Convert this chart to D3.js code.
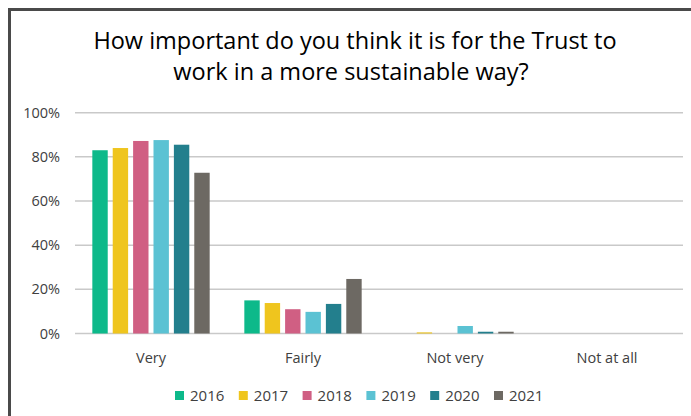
<!DOCTYPE html>
<html>
<head>
<meta charset="utf-8">
<script src="https://cdn.jsdelivr.net/npm/d3@7"></script>
<style>
  body { margin: 0; background: #fff; }
  svg { display: block; font-family: 'Open Sans', Lato, sans-serif; }
</style>
</head>
<body>
<svg id="chart" width="691" height="416"></svg>
<script>
// data
var categories = ['Very', 'Fairly', 'Not very', 'Not at all'];
var years = ['2016', '2017', '2018', '2019', '2020', '2021'];
var values2016 = [0.83, 0.15, 0.0, 0.0];
var values2017 = [0.84, 0.138, 0.005, 0.0];
var values2018 = [0.872, 0.11, 0.0, 0.0];
var values2019 = [0.876, 0.098, 0.034, 0.0];
var values2020 = [0.855, 0.134, 0.008, 0.0];
var values2021 = [0.728, 0.247, 0.008, 0.0];
var yTicks = [0, 0.2, 0.4, 0.6, 0.8, 1.0];
var colors = ['#0db98a', '#efc51e', '#d05f83', '#5bc2d3', '#237f8d', '#6d6963'];

var series = [values2016, values2017, values2018, values2019, values2020, values2021];

var svg = d3.select('#chart');

// frame lines (top and left)
svg.append('rect').attr('x', 8).attr('y', 8).attr('width', 691).attr('height', 3).attr('fill', '#4a4a4a');
svg.append('rect').attr('x', 8).attr('y', 8).attr('width', 3).attr('height', 416).attr('fill', '#4a4a4a');

// title
var title = svg.append('text')
    .attr('text-anchor', 'middle')
    .style('font-size', '23.5px')
    .style('fill', '#000');
title.append('tspan').attr('x', 355).attr('y', 49).text('How important do you think it is for the Trust to');
title.append('tspan').attr('x', 351).attr('y', 80).text('work in a more sustainable way?');

// scales
var xScale = d3.scaleBand().domain(categories).range([75, 683]).paddingInner(0.228).paddingOuter(0.114);
var xInner = d3.scaleBand().domain(years).range([0, xScale.bandwidth()]).padding(0.245).paddingOuter(0);
var yScale = d3.scaleLinear().domain([0, 1]).range([333.5, 112.7]);

// gridlines
svg.append('g').selectAll('line').data(yTicks).enter().append('line')
    .attr('x1', 75).attr('x2', 683)
    .attr('y1', d => yScale(d)).attr('y2', d => yScale(d))
    .attr('stroke', '#c9c9c9').attr('stroke-width', 1.5);

// y labels
svg.append('g').selectAll('text').data(yTicks).enter().append('text')
    .attr('x', 60).attr('y', d => yScale(d))
    .attr('dy', '0.35em')
    .attr('text-anchor', 'end')
    .style('font-size', '14.5px').style('fill', '#404040')
    .text(d => d3.format('.0%')(d));

// bars
var groups = svg.append('g').selectAll('g').data(series).enter().append('g')
    .attr('fill', (d, i) => colors[i])
    .attr('transform', (d, i) => 'translate(' + xInner(years[i]) + ',0)');

groups.selectAll('rect').data(d => d.map((v, j) => ({cat: categories[j], v: v})))
    .enter().append('rect')
    .attr('x', d => xScale(d.cat))
    .attr('y', d => yScale(d.v))
    .attr('width', xInner.bandwidth())
    .attr('height', d => yScale(0) - yScale(d.v));

// category labels
svg.append('g').selectAll('text').data(categories).enter().append('text')
    .attr('x', d => xScale(d) + xScale.bandwidth() / 2)
    .attr('y', 363)
    .attr('text-anchor', 'middle')
    .style('font-size', '14.5px').style('fill', '#404040')
    .text(d => d);

// legend
var legend = svg.append('g').selectAll('g').data(years).enter().append('g')
    .attr('transform', (d, i) => 'translate(' + (175 + i * 63.8) + ',391)');
legend.append('rect').attr('width', 9).attr('height', 9).attr('fill', (d, i) => colors[i]);
legend.append('text')
    .attr('x', 15).attr('y', 4.5).attr('dy', '0.35em')
    .style('font-size', '15px').style('fill', '#404040')
    .text(d => d);
</script>
</body>
</html>
